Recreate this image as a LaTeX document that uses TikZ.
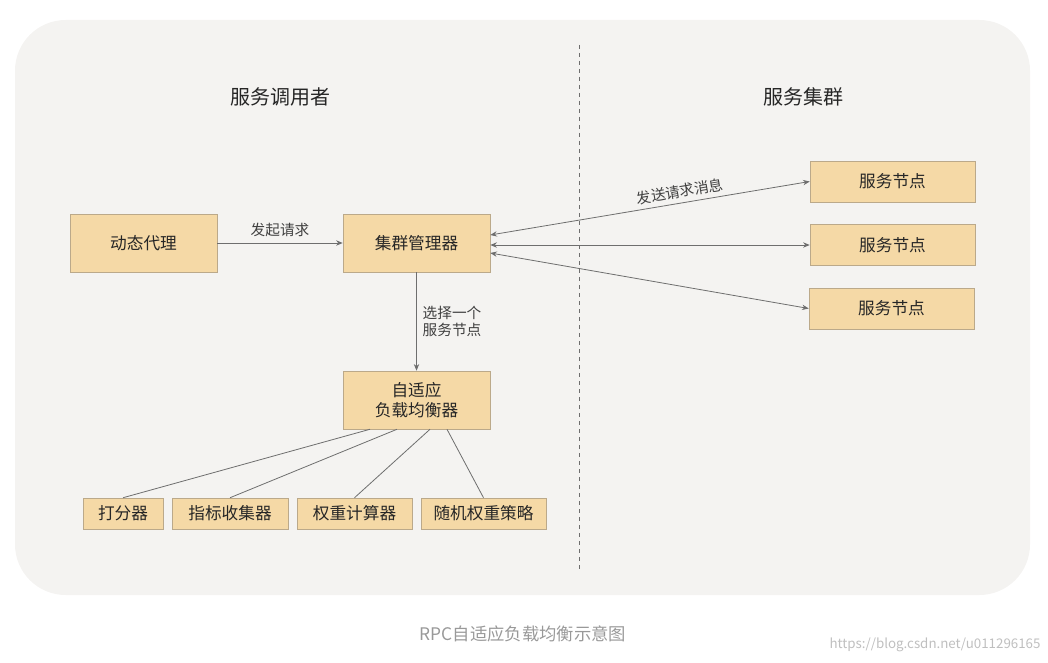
\documentclass[tikz,border=0pt]{standalone}
\usepackage{fontspec}
\setmainfont{Noto Sans CJK SC}
\usetikzlibrary{arrows.meta}
\definecolor{bg}{HTML}{F4F3F1}
\definecolor{boxf}{HTML}{F5D9A6}
\definecolor{boxd}{HTML}{BBA98A}
\definecolor{ln}{HTML}{6E6E6E}
\tikzset{
  box/.style={draw=boxd,fill=boxf,inner sep=0pt,font=\fontsize{12.5}{15}\selectfont,text=black!85,align=center},
  conn/.style={draw=ln,line width=0.6pt,-{Stealth[length=5pt,width=4pt]}},
  dconn/.style={draw=ln,line width=0.6pt,{Stealth[length=5pt,width=4pt]}-{Stealth[length=5pt,width=4pt]}},
  plain/.style={draw=ln,line width=0.6pt},
  lbl/.style={font=\fontsize{11}{13}\selectfont,text=black!75,align=left},
  ttl/.style={font=\fontsize{15}{18}\selectfont,text=black!85}
}
\begin{document}
\begin{tikzpicture}[x=0.75pt,y=-0.75pt]
\useasboundingbox (0,0) rectangle (1048,663);
\fill[bg,rounded corners=38pt] (15,20) rectangle (1030,595);
\draw[ln,dashed,line width=0.6pt] (579,45) -- (579,570);
\node[ttl] (t1) at (280,97) {服务调用者};
\node[ttl] (t2) at (803,97) {服务集群};
\node[box,minimum width=110.25pt,minimum height=43.5pt] (proxy) at (143.5,243) {动态代理};
\node[box,minimum width=110.25pt,minimum height=43.5pt] (mgr) at (416.5,243) {集群管理器};
\node[box,minimum width=123.75pt,minimum height=30.75pt] (n1) at (892.5,181.5) {服务节点};
\node[box,minimum width=123.75pt,minimum height=30.75pt] (n2) at (892.5,245) {服务节点};
\node[box,minimum width=123.75pt,minimum height=30.75pt] (n3) at (891.5,308.5) {服务节点};
\node[box,minimum width=110.25pt,minimum height=43.5pt] (lb) at (416.5,400) {自适应\\负载均衡器};
\node[box,minimum width=60pt,minimum height=23.25pt] (s1) at (123,513.5) {打分器};
\node[box,minimum width=87pt,minimum height=23.25pt] (s2) at (230,513.5) {指标收集器};
\node[box,minimum width=86.25pt,minimum height=23.25pt] (s3) at (354.5,513.5) {权重计算器};
\node[box,minimum width=93.75pt,minimum height=23.25pt] (s4) at (483.5,513.5) {随机权重策略};
\draw[conn] (proxy) -- node[lbl,above=1pt]{发起请求} (mgr);
\draw[conn] (mgr) -- node[lbl,right=1pt]{选择一个\\服务节点} (lb);
\draw[dconn] ([yshift=6pt]mgr.east) -- node[lbl,above,sloped,pos=0.6]{发送请求消息} (n1.west);
\draw[dconn] ([yshift=-1.5pt]mgr.east) -- (n2.west);
\draw[dconn] ([yshift=-7.5pt]mgr.east) -- (n3.west);
\draw[plain] (lb.south -| 370,0) -- (s1.north);
\draw[plain] (lb.south -| 397,0) -- (s2.north);
\draw[plain] (lb.south -| 430,0) -- (s3.north);
\draw[plain] (lb.south -| 447,0) -- (s4.north);
\node[font=\fontsize{13}{15}\selectfont,text=black!40] (cap) at (523,634) {RPC自适应负载均衡示意图};
\node[font=\fontsize{10}{12}\selectfont,text=black!25] (wm) at (935,645) {https://blog.csdn.net/u011296165};
\end{tikzpicture}
\end{document}
